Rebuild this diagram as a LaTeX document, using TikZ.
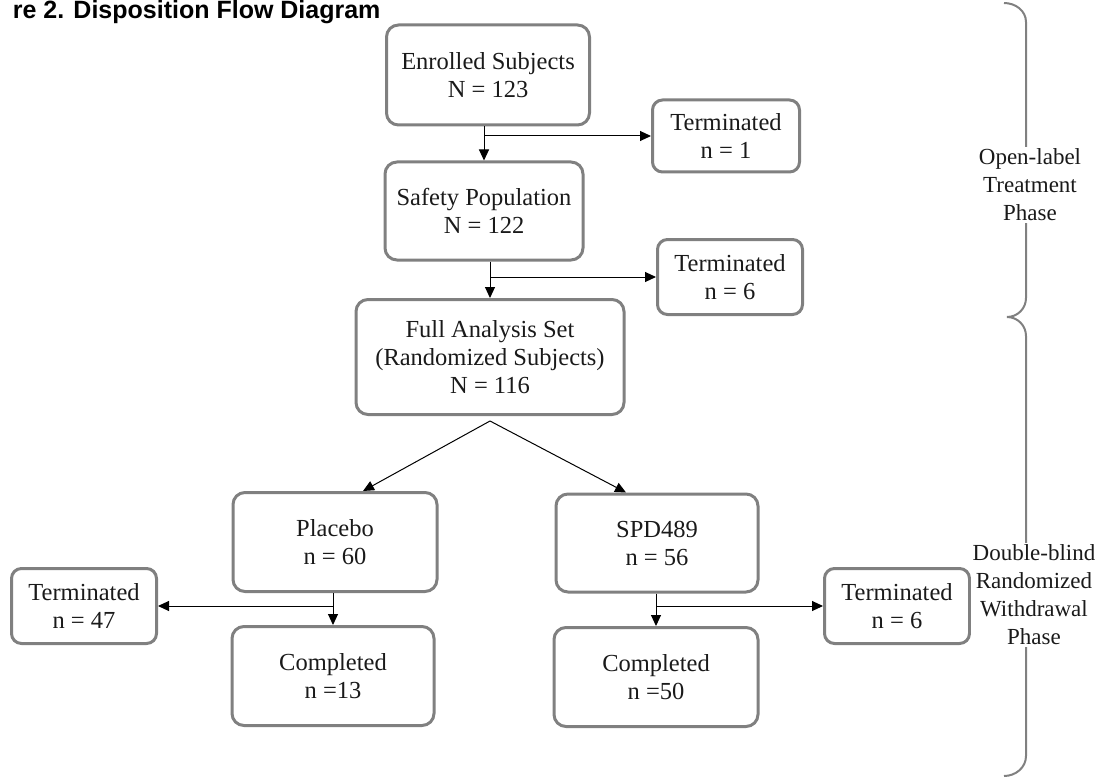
\documentclass[tikz,border=0pt]{standalone}
\usepackage{fontspec}
\setmainfont{Liberation Serif}
\newfontfamily\headfont{Liberation Sans}
\usetikzlibrary{arrows.meta}
\definecolor{vboxgray}{HTML}{808080}
\definecolor{vtextdark}{HTML}{1a1a1a}

\begin{document}
\begin{tikzpicture}[x=1pt, y=-1pt,
		box/.style={draw=vboxgray, line width=3pt, rounded corners=12pt, align=center, inner sep=0pt, text=vtextdark, font=\fontsize{24.5}{28}\selectfont},
		flow/.style={draw=black, line width=1pt, -{Triangle[length=11pt, width=10pt]}},
		phase/.style={fill=white, align=center, inner sep=2pt, text=vtextdark, font=\fontsize{23}{28}\selectfont}]
		\useasboundingbox (0,0) rectangle (1097,778);
		\node[anchor=base east, font=\headfont\bfseries\fontsize{25}{30}\selectfont] (title) at (384,19) {re 2. Disposition Flow Diagram};
		\node[box, minimum width=203pt, minimum height=100pt] (enr) at (488,75) {Enrolled Subjects\\N = 123};
		\node[box, minimum width=147pt, minimum height=72pt, rounded corners=10pt] (term1) at (726,136) {Terminated\\n = 1};
		\node[box, minimum width=198pt, minimum height=98pt] (safe) at (484,211) {Safety Population\\N = 122};
		\node[box, minimum width=145pt, minimum height=75pt, rounded corners=10pt] (term2) at (730,277) {Terminated\\n = 6};
		\node[box, minimum width=268pt, minimum height=115pt] (fas) at (490,357) {Full Analysis Set\\(Randomized Subjects)\\N = 116};
		\node[box, minimum width=204pt, minimum height=99pt] (plac) at (335,542) {Placebo\\n = 60};
		\node[box, minimum width=202pt, minimum height=98pt] (spd) at (657,543) {SPD489\\n = 56};
		\node[box, minimum width=145pt, minimum height=75pt, rounded corners=10pt] (term3) at (84,606) {Terminated\\n = 47};
		\node[box, minimum width=145pt, minimum height=75pt, rounded corners=10pt] (term4) at (897,606) {Terminated\\n = 6};
		\node[box, minimum width=202pt, minimum height=99pt] (compl) at (333,676) {Completed\\n =13};
		\node[box, minimum width=204pt, minimum height=99pt] (compr) at (656,677) {Completed\\n =50};
		\coordinate (split) at ([yshift=-5pt]fas.south);
		\draw[flow] (enr.south -| safe.north) -- (safe.north);
		\draw[flow] (enr.south -| safe.north) |- (term1.west);
		\draw[flow] (safe.south -| fas.north) -- (fas.north);
		\draw[flow] (safe.south -| fas.north) |- (term2.west);
		\draw[flow] (split) -- ([xshift=28pt]plac.north);
		\draw[flow] (split) -- ([xshift=-31pt]spd.north);
		\draw[flow] (plac.south -| compl.north) -- (compl.north);
		\draw[flow] (plac.south -| compl.north) |- (term3.east);
		\draw[flow] (spd.south -| compr.north) -- (compr.north);
		\draw[flow] (spd.south -| compr.north) |- (term4.west);
		\draw[vboxgray, line width=2pt] (1004,3) to[out=0, in=90] (1026,22) -- (1026,298) to[out=-90, in=0] (1007,317);
		\draw[vboxgray, line width=2pt] (1007,317) to[out=0, in=90] (1026,336) -- (1026,756) to[out=-90, in=0] (1004,776);
		\node[phase] (openphase) at (1030,185) {Open-label\\Treatment\\Phase};
		\node[phase] (dblphase) at (1034,595) {Double-blind\\Randomized\\Withdrawal\\Phase};
	\end{tikzpicture}
\end{document}
